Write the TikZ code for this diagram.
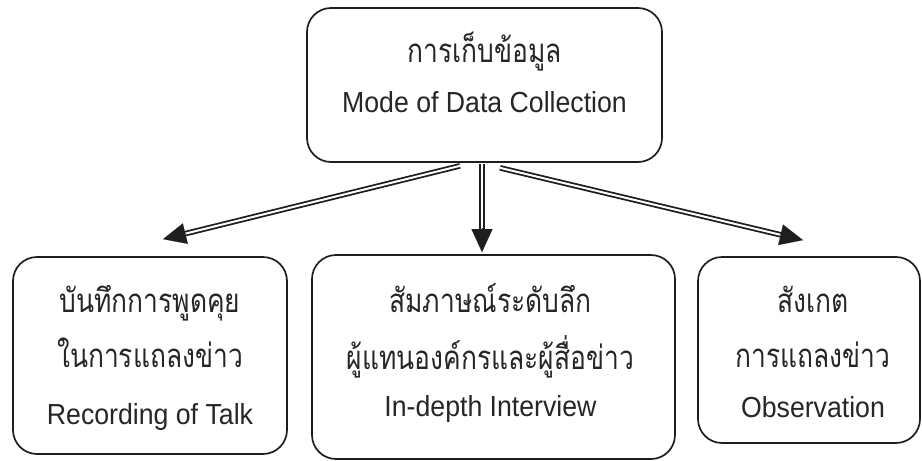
\documentclass[tikz,border=0pt]{standalone}
\usepackage{fontspec}
\setmainfont[FakeStretch=0.92]{Liberation Sans}
\newfontfamily\thaifont[Script=Thai,FakeStretch=0.8]{Loma}
\usetikzlibrary{arrows.meta,calc}
\definecolor{inkline}{HTML}{1E1E1E}
\definecolor{inktext}{HTML}{262626}

\begin{document}
\begin{tikzpicture}[x=1pt,y=-1pt,
  box/.style={draw=inkline, line width=1.7pt, rounded corners=24pt, inner sep=0pt},
  thline/.style={font=\thaifont\fontsize{33}{36}\selectfont, text=inktext, anchor=base, inner sep=0pt},
  enline/.style={font=\fontsize{29}{33}\selectfont, text=inktext, anchor=base, inner sep=0pt},
  shaft/.style={draw=inkline, line width=1.8pt, double=white, double distance=2pt},
  head/.style={-{Triangle[length=23pt,width=21pt]}, draw=inkline, fill=inkline, line width=0.1pt}]

  \useasboundingbox (0,0) rectangle (922,461);

  % boxes
  \node[box, minimum width=355pt, minimum height=154pt] (top)   at (484.5,85) {};
  \node[box, minimum width=274pt, minimum height=197pt] (talk)  at (150,355.5) {};
  \node[box, minimum width=363pt, minimum height=204pt] (inter) at (493.5,357) {};
  \node[box, minimum width=222pt, minimum height=186pt] (obs)   at (809,350) {};

  % top box text
  \node[thline] (topth) at ($(top.north)+(0,55)$) {การเก็บข้อมูล};
  \node[enline] (topen) at ($(top.north)+(0,105)$) {Mode of Data Collection};

  % recording of talk
  \node[thline] (talkthA) at ($(talk.north)+(0,56)$) {บันทึกการพูดคุย};
  \node[thline] (talkthB) at ($(talk.north)+(0,111)$) {ในการแถลงข่าว};
  \node[enline] (talken)  at ($(talk.north)+(0,168)$) {Recording of Talk};

  % in-depth interview
  \node[thline] (interthA) at ($(inter.north)+(-3,58)$) {สัมภาษณ์ระดับลึก};
  \node[thline] (interthB) at ($(inter.north)+(-3,115)$) {ผู้แทนองค์กรและผู้สื่อข่าว};
  \node[enline] (interen)  at ($(inter.north)+(-3,162)$) {In-depth Interview};

  % observation
  \node[thline] (obsthA) at ($(obs.north)+(4,56)$) {สังเกต};
  \node[thline] (obsthB) at ($(obs.north)+(4,111)$) {การแถลงข่าว};
  \node[enline] (obsen)  at ($(obs.north)+(4,161)$) {Observation};

  % connector end points
  \coordinate (sTalk)  at ($(top.south)+(-24.5,3)$);
  \coordinate (tTalk)  at ($(talk.north)+(13,-17)$);
  \coordinate (sInter) at ($(top.south)+(-2.5,1)$);
  \coordinate (tInter) at ($(inter.north)+(-11.5,-2)$);
  \coordinate (sObs)   at ($(top.south)+(15.5,5)$);
  \coordinate (tObs)   at ($(obs.north)+(-6,-16)$);

  % double-line arrows
  \foreach \s/\t in {sTalk/tTalk, sInter/tInter, sObs/tObs}{
    \draw[shaft] (\s) -- ($(\t)!21pt!(\s)$);
    \draw[head] ($(\t)!24pt!(\s)$) -- (\t);
  }
\end{tikzpicture}
\end{document}
